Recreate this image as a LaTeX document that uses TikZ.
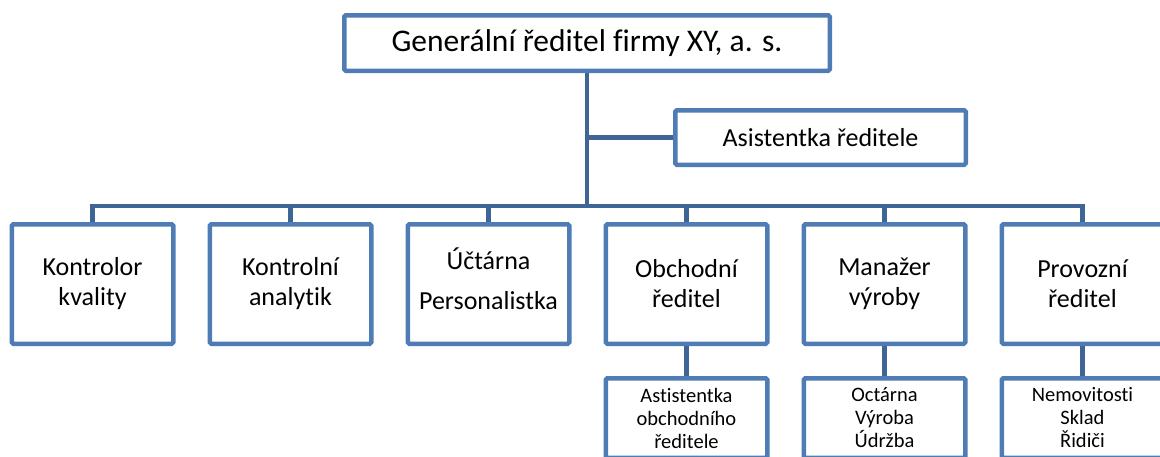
\documentclass[tikz,border=0pt]{standalone}
\usepackage{fontspec}
\setmainfont{Carlito}[Ligatures=NoCommon]
\usetikzlibrary{positioning}
\definecolor{boxblue}{RGB}{79,124,180}
\definecolor{lineblue}{RGB}{63,100,150}
\tikzset{basic/.style={draw=boxblue,line width=4.5pt,rounded corners=1.5pt,align=center,inner sep=0pt}}
\tikzset{head/.style={basic,minimum width=485.5pt,minimum height=55.5pt,font=\fontsize{31.5}{36}\selectfont}}
\tikzset{assist/.style={basic,minimum width=290.5pt,minimum height=54.5pt,font=\fontsize{26}{30}\selectfont}}
\tikzset{dept/.style={basic,minimum width=161.5pt,minimum height=119.5pt,font=\fontsize{26}{30}\selectfont}}
\tikzset{subdept/.style={basic,minimum width=161.5pt,minimum height=79.5pt,font=\fontsize{20.5}{23}\selectfont}}
\tikzset{conn/.style={draw=lineblue,line width=4.5pt}}

\begin{document}
\begin{tikzpicture}[x=1pt,y=-1pt]
    \useasboundingbox (0,0) rectangle (1160,456);
    \clip (0,0) rectangle (1160,456);

    \node[head] (gen) at (587,43) {Generální ředitel firmy XY, a. s.};
    \node[assist] (asist) at (820.5,137.5) {Asistentka ředitele};
    \coordinate (bus) at (587,206);

    \node[dept] (kval) at (92.5,284) {Kontrolor\\kvality};
    \node[dept,right=32pt of kval] (anal) {Kontrolní\\analytik};
    \node[dept,right=32pt of anal] (uct) {Účtárna\\[10pt]Personalistka\rule[-10pt]{0pt}{0pt}};
    \node[dept,right=32pt of uct] (obch) {Obchodní\\ředitel};
    \node[dept,right=32pt of obch] (vyr) {Manažer\\výroby};
    \node[dept,right=32pt of vyr] (prov) {Provozní\\ředitel};

    \node[subdept,below=30pt of obch] (obchsub) {Astistentka\\obchodního\\ředitele};
    \node[subdept,below=30pt of vyr] (vyrsub) {Octárna\\Výroba\\Údržba};
    \node[subdept,below=30pt of prov] (provsub) {Nemovitosti\\Sklad\\Řidiči};

    % vedeni
    \path[conn] (gen.south) -- (bus);
    \path[conn] (gen.south |- asist.west) -- (asist.west);
    \path[conn] (kval.north) |- (bus) -| (prov.north);
    \path[conn] (anal.north) -- (anal.north |- bus);
    \path[conn] (uct.north) -- (uct.north |- bus);
    \path[conn] (obch.north) -- (obch.north |- bus);
    \path[conn] (vyr.north) -- (vyr.north |- bus);

    \path[conn] (obch) -- (obchsub);
    \path[conn] (vyr) -- (vyrsub);
    \path[conn] (prov) -- (provsub);
\end{tikzpicture}
\end{document}
